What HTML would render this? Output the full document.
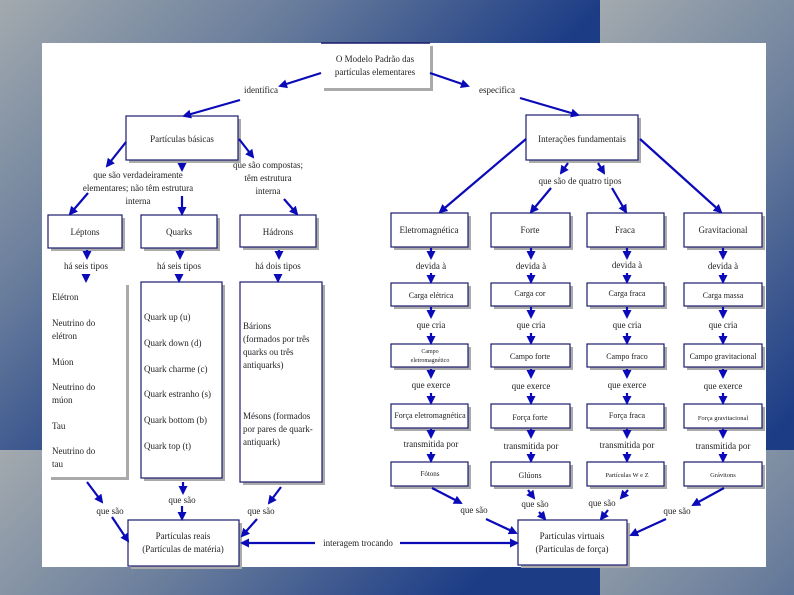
<!DOCTYPE html>
<html><head><meta charset="utf-8"><style>
html,body{margin:0;padding:0;width:794px;height:595px;overflow:hidden}
body{background:linear-gradient(135deg,#a3aaaf 0%,#6a7e9c 28%,#1c3c86 58%,#1a3a85 100%);background-size:600px 450px;background-repeat:repeat}
svg{position:absolute;left:0;top:0}
text{font-family:"Liberation Serif",serif;font-size:9px;fill:#222;text-anchor:middle}
</style></head><body>
<svg width="794" height="595" viewBox="0 0 794 595">
<defs>
<marker id="a" markerWidth="9" markerHeight="9" refX="7" refY="4.5" orient="auto" markerUnits="userSpaceOnUse"><path d="M0,0 L9,4.5 L0,9 Z" fill="#0a0ab8"/></marker>
</defs>
<rect x="42" y="43" width="724" height="524" fill="#fff"/>
<g fill="#aaa">
<rect x="324" y="46" width="109" height="45"/>
<rect x="129" y="119" width="112" height="44"/>
<rect x="51" y="218" width="74" height="33"/>
<rect x="144" y="218" width="76" height="33"/>
<rect x="243" y="218" width="76" height="32"/>
<rect x="51" y="285" width="78" height="195"/>
<rect x="144" y="285" width="81" height="196"/>
<rect x="243" y="285" width="82" height="200"/>
<rect x="131" y="523" width="111" height="46"/>
<rect x="529" y="118" width="112" height="45"/>
<rect x="521" y="523" width="109" height="45"/>
</g>
<g fill="#fff" stroke="#1a1a6e" stroke-width="1.2">
<rect x="321" y="43" width="109" height="45" stroke="none"/>
<rect x="126" y="116" width="112" height="44"/>
<rect x="48" y="215" width="74" height="33"/>
<rect x="141" y="215" width="76" height="33"/>
<rect x="240" y="215" width="76" height="32"/>
<rect x="48" y="282" width="78" height="195" stroke="none"/>
<rect x="141" y="282" width="81" height="196"/>
<rect x="240" y="282" width="82" height="200"/>
<rect x="128" y="520" width="111" height="46"/>
<rect x="526" y="115" width="112" height="45"/>
<rect x="518" y="520" width="109" height="45"/>
</g>
<line x1="321" y1="43" x2="430" y2="43" stroke="#1a1a6e" stroke-width="1.5"/>
<g fill="#aaa">
<rect x="394" y="216" width="77" height="34"/><rect x="494" y="216" width="79" height="34"/><rect x="590" y="216" width="77" height="34"/><rect x="687" y="216" width="78" height="34"/>
<rect x="394" y="286" width="77" height="23"/><rect x="494" y="286" width="79" height="23"/><rect x="590" y="286" width="77" height="23"/><rect x="687" y="286" width="78" height="23"/>
<rect x="394" y="347" width="77" height="23"/><rect x="494" y="347" width="79" height="23"/><rect x="590" y="347" width="77" height="23"/><rect x="687" y="347" width="78" height="23"/>
<rect x="394" y="407" width="77" height="24"/><rect x="494" y="407" width="79" height="24"/><rect x="590" y="407" width="77" height="24"/><rect x="687" y="407" width="78" height="24"/>
<rect x="394" y="465" width="77" height="24"/><rect x="494" y="465" width="79" height="24"/><rect x="590" y="465" width="77" height="24"/><rect x="687" y="465" width="78" height="24"/>
</g>
<g fill="#fff" stroke="#1a1a6e" stroke-width="1.2">
<rect x="391" y="213" width="77" height="34"/><rect x="491" y="213" width="79" height="34"/><rect x="587" y="213" width="77" height="34"/><rect x="684" y="213" width="78" height="34"/>
<rect x="391" y="283" width="77" height="23"/><rect x="491" y="283" width="79" height="23"/><rect x="587" y="283" width="77" height="23"/><rect x="684" y="283" width="78" height="23"/>
<rect x="391" y="344" width="77" height="23"/><rect x="491" y="344" width="79" height="23"/><rect x="587" y="344" width="77" height="23"/><rect x="684" y="344" width="78" height="23"/>
<rect x="391" y="404" width="77" height="24"/><rect x="491" y="404" width="79" height="24"/><rect x="587" y="404" width="77" height="24"/><rect x="684" y="404" width="78" height="24"/>
<rect x="391" y="462" width="77" height="24"/><rect x="491" y="462" width="79" height="24"/><rect x="587" y="462" width="77" height="24"/><rect x="684" y="462" width="78" height="24"/>
</g>
<g stroke="#0a0ab8" stroke-width="2.2" fill="none" marker-end="url(#a)">
<polyline points="321,73 280,86"/><line x1="240" y1="100" x2="184" y2="116"/>
<polyline points="430,73 468,86"/><line x1="520" y1="98" x2="578" y2="115"/>
<line x1="126" y1="142" x2="107" y2="166" marker-end=""/><line x1="88" y1="193" x2="70" y2="214"/>
<line x1="182" y1="163" x2="182" y2="170" marker-end=""/><line x1="182" y1="196" x2="182" y2="214"/>
<line x1="239" y1="139" x2="253" y2="157" marker-end=""/><line x1="284" y1="199" x2="297" y2="214"/>
<line x1="87" y1="250" x2="87" y2="258" marker-end=""/><line x1="86" y1="275" x2="86" y2="281"/>
<line x1="180" y1="250" x2="180" y2="258" marker-end=""/><line x1="179" y1="275" x2="179" y2="281"/>
<line x1="279" y1="250" x2="279" y2="258" marker-end=""/><line x1="278" y1="275" x2="278" y2="281"/>
<line x1="87" y1="482" x2="102" y2="502" marker-end=""/><line x1="112" y1="517" x2="128" y2="541"/>
<line x1="183" y1="482" x2="183" y2="493" marker-end=""/><line x1="182" y1="506" x2="182" y2="519"/>
<line x1="281" y1="487" x2="269" y2="503" marker-end=""/><line x1="257" y1="519" x2="242" y2="536"/>
<line x1="526" y1="139" x2="440" y2="212"/>
<line x1="568" y1="163" x2="561" y2="173" marker-end=""/><line x1="551" y1="188" x2="531" y2="212"/>
<line x1="598" y1="163" x2="604" y2="173" marker-end=""/><line x1="612" y1="188" x2="626" y2="212"/>
<line x1="640" y1="139" x2="721" y2="212"/>
<line x1="432" y1="488" x2="461" y2="503" marker-end=""/><line x1="486" y1="519" x2="516" y2="533"/>
<line x1="528" y1="490" x2="534" y2="498" marker-end=""/><line x1="539" y1="512" x2="545" y2="519"/>
<line x1="628" y1="490" x2="621" y2="498" marker-end=""/><line x1="608" y1="510" x2="601" y2="519"/>
<line x1="724" y1="488" x2="693" y2="505" marker-end=""/><line x1="666" y1="519" x2="631" y2="535"/>
<line x1="315" y1="543" x2="242" y2="543" marker-end=""/><line x1="400" y1="543" x2="517" y2="543"/>
</g>
<g stroke="#0a0ab8" stroke-width="2.2" fill="none" marker-end="url(#a)">
<g id="v">
<line x1="431" y1="248" x2="431" y2="258" marker-end=""/><line x1="431" y1="273" x2="431" y2="282"/>
<line x1="431" y1="307" x2="431" y2="317" marker-end=""/><line x1="431" y1="333" x2="431" y2="343"/>
<line x1="431" y1="369" x2="431" y2="377" marker-end=""/><line x1="431" y1="393" x2="431" y2="403"/>
<line x1="431" y1="429" x2="431" y2="437" marker-end=""/><line x1="431" y1="452" x2="431" y2="461"/>
</g>
<use href="#v" x="100"/><use href="#v" x="196"/><use href="#v" x="292"/>
</g>
<text x="375" y="62">O Modelo Padrão das</text>
<text x="375" y="75">partículas elementares</text>
<text x="261" y="93">identifica</text>
<text x="497" y="93">especifica</text>
<text x="182" y="142">Partículas básicas</text>
<text x="138" y="178">que são verdadeiramente</text>
<text x="138" y="191">elementares; não têm estrutura</text>
<text x="138" y="204">interna</text>
<text x="268" y="168">que são compostas;</text>
<text x="268" y="181">têm estrutura</text>
<text x="268" y="194">interna</text>
<text x="85" y="235">Léptons</text>
<text x="179" y="235">Quarks</text>
<text x="278" y="235">Hádrons</text>
<text x="86" y="269">há seis tipos</text>
<text x="179" y="269">há seis tipos</text>
<text x="278" y="269">há dois tipos</text>
<text x="52" y="300" style="text-anchor:start">Elétron</text>
<text x="52" y="326" style="text-anchor:start">Neutrino do</text>
<text x="52" y="339" style="text-anchor:start">elétron</text>
<text x="52" y="365" style="text-anchor:start">Múon</text>
<text x="52" y="390" style="text-anchor:start">Neutrino do</text>
<text x="52" y="403" style="text-anchor:start">múon</text>
<text x="52" y="429" style="text-anchor:start">Tau</text>
<text x="52" y="454" style="text-anchor:start">Neutrino do</text>
<text x="52" y="467" style="text-anchor:start">tau</text>
<text x="144" y="320" style="text-anchor:start">Quark up  (u)</text>
<text x="144" y="346" style="text-anchor:start">Quark down  (d)</text>
<text x="144" y="372" style="text-anchor:start">Quark charme (c)</text>
<text x="144" y="397" style="text-anchor:start">Quark estranho  (s)</text>
<text x="144" y="423" style="text-anchor:start">Quark bottom  (b)</text>
<text x="144" y="449" style="text-anchor:start">Quark top  (t)</text>
<text x="243" y="329" style="text-anchor:start">Bárions</text>
<text x="243" y="342" style="text-anchor:start">(formados por três</text>
<text x="243" y="355" style="text-anchor:start">quarks ou três</text>
<text x="243" y="368" style="text-anchor:start">antiquarks)</text>
<text x="243" y="419" style="text-anchor:start">Mésons (formados</text>
<text x="243" y="432" style="text-anchor:start">por pares de quark-</text>
<text x="243" y="445" style="text-anchor:start">antiquark)</text>
<text x="110" y="514">que são</text>
<text x="182" y="503">que são</text>
<text x="261" y="514">que são</text>
<text x="183" y="539">Partículas reais</text>
<text x="183" y="552">(Partículas de matéria)</text>
<text x="358" y="546">interagem trocando</text>
<text x="572" y="539">Partículas virtuais</text>
<text x="572" y="552">(Partículas de força)</text>
<text x="582" y="142">Interações fundamentais</text>
<text x="580" y="184">que são de quatro tipos</text>
<text x="429" y="233">Eletromagnética</text>
<text x="530" y="233">Forte</text>
<text x="625" y="233">Fraca</text>
<text x="723" y="233">Gravitacional</text>
<text x="431" y="269">devida à</text><text x="531" y="269">devida à</text><text x="627" y="268">devida à</text><text x="723" y="269">devida à</text>
<text x="431" y="298" style="font-size:8px">Carga elétrica</text><text x="530" y="296" style="font-size:8px">Carga cor</text><text x="627" y="296" style="font-size:8px">Carga fraca</text><text x="723" y="298" style="font-size:8px">Carga massa</text>
<text x="431" y="328">que cria</text><text x="531" y="328">que cria</text><text x="627" y="328">que cria</text><text x="723" y="328">que cria</text>
<text x="430" y="353" style="font-size:6px">Campo</text><text x="430" y="362" style="font-size:6px">eletromagnético</text>
<text x="530" y="359" style="font-size:8px">Campo forte</text><text x="627" y="359" style="font-size:8px">Campo fraco</text><text x="723" y="359" style="font-size:8px">Campo gravitacional</text>
<text x="431" y="388">que exerce</text><text x="531" y="389">que exerce</text><text x="627" y="388">que exerce</text><text x="723" y="389">que exerce</text>
<text x="430" y="418" style="font-size:8px">Força eletromagnética</text><text x="530" y="420" style="font-size:8px">Força forte</text><text x="627" y="418" style="font-size:8px">Força fraca</text><text x="723" y="420" style="font-size:6.5px">Força gravitacional</text>
<text x="431" y="447">transmitida por</text><text x="531" y="449">transmitida por</text><text x="627" y="448">transmitida por</text><text x="723" y="449">transmitida por</text>
<text x="430" y="476" style="font-size:7px">Fótons</text><text x="530" y="478" style="font-size:8px">Glúons</text><text x="627" y="477" style="font-size:6.5px">Partículas W e Z</text><text x="723" y="477" style="font-size:6.5px">Grávitons</text>
<text x="474" y="513">que são</text>
<text x="535" y="507">que são</text>
<text x="602" y="506">que são</text>
<text x="677" y="514">que são</text>
</svg>
</body></html>
